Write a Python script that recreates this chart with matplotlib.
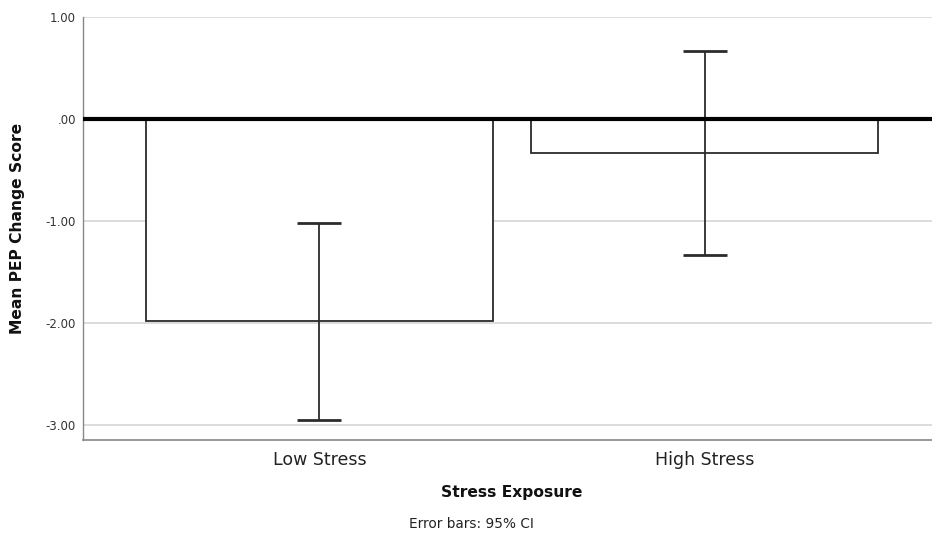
import matplotlib
matplotlib.use("Agg")
import matplotlib.pyplot as plt

# Dados
groups = ["Low Stress", "High Stress"]
means = [-1.98, -0.33]
ci_low = [-2.95, -1.33]
ci_high = [-1.02, 0.67]
yticks = [1.0, 0.0, -1.0, -2.0, -3.0]
ytick_labels = ["1.00", ".00", "-1.00", "-2.00", "-3.00"]

W, H = 932, 538
fig = plt.figure(figsize=(W / 100, H / 100), dpi=100)
ax = fig.add_axes([83 / W, 1 - 440 / H, 1 - 83 / W, (440 - 17) / H])

x = list(range(len(groups)))
yerr = [[m - lo for m, lo in zip(means, ci_low)],
        [hi - m for m, hi in zip(means, ci_high)]]

# Grade horizontal
for t in yticks:
    ax.axhline(t, color="#d9d9d9", lw=1.3, zorder=0)

ax.bar(x, means, width=0.9, facecolor="white", edgecolor="#2b2b2b",
       linewidth=1.3, zorder=2)
ax.errorbar(x, means, yerr=yerr, fmt="none", ecolor="#2b2b2b",
            elinewidth=1.3, capsize=15.8, capthick=2.0, zorder=3)
ax.axhline(0, color="black", lw=3, zorder=4)

ax.set_xlim(-0.6135, 1.589)
ax.set_ylim(-3.147, 1.0)
ax.set_yticks(yticks)
ax.set_yticklabels(ytick_labels, fontsize=8.5, color="#333333")
ax.set_xticks(x)
ax.set_xticklabels(groups, fontsize=12.5, color="#222222")
ax.tick_params(axis="y", length=0, pad=5)
ax.tick_params(axis="x", length=0, pad=8)

for side in ["top", "right"]:
    ax.spines[side].set_visible(False)
ax.spines["left"].set_color("#888888")
ax.spines["bottom"].set_color("#888888")
ax.spines["left"].set_linewidth(1.0)
ax.spines["bottom"].set_linewidth(1.2)

fig.text(18 / W, 1 - 228 / H, "Mean PEP Change Score", rotation=90,
         ha="center", va="center", fontsize=11.2, fontweight="bold",
         color="#111111")
fig.text(512 / W, 1 - 492 / H, "Stress Exposure", ha="center", va="center",
         fontsize=11.2, fontweight="bold", color="#111111")
fig.text(471 / W, 1 - 524 / H, "Error bars: 95% CI", ha="center",
         va="center", fontsize=9.8, color="#222222")

fig.savefig("out.png", dpi=100, facecolor="white")
